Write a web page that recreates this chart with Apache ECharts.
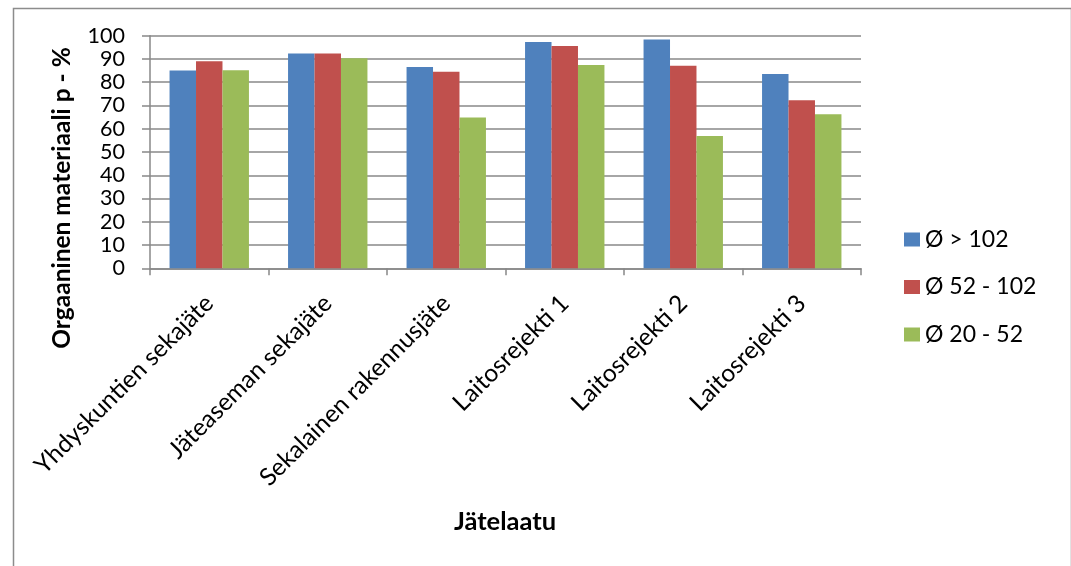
<!DOCTYPE html>
<html>
<head>
<meta charset="utf-8">
<script src="https://cdn.jsdelivr.net/npm/echarts@6/dist/echarts.min.js"></script>
<style>
  html, body { margin: 0; padding: 0; background: #fff; }
  #chart { width: 1071px; height: 566px; }
</style>
</head>
<body>
<div id="chart"></div>
<script>
// Waste types (x categories)
const categories = [
  'Yhdyskuntien sekajäte',
  'Jäteaseman sekajäte',
  'Sekalainen rakennusjäte',
  'Laitosrejekti 1',
  'Laitosrejekti 2',
  'Laitosrejekti 3'
];

// Particle size fractions
const seriesNames = ['Ø > 102', 'Ø 52 - 102', 'Ø 20 - 52'];

// Organic material share (%) per fraction
const over102 = [85, 92.3, 86.5, 97.3, 98.4, 83.5];
const from52to102 = [89, 92.3, 84.5, 95.6, 87.1, 72.2];
const from20to52 = [85.1, 90.3, 64.8, 87.4, 56.9, 66.2];

const seriesValues = [over102, from52to102, from20to52];
const colors = ['#4F81BD', '#C0504D', '#9BBB59'];

const FONT = 'Lato, "Open Sans", sans-serif';
const GRID_GRAY = '#888888';

const chart = echarts.init(document.getElementById('chart'), null, { renderer: 'canvas' });

chart.setOption({
  animation: false,
  backgroundColor: '#ffffff',
  textStyle: { fontFamily: FONT, color: '#000' },
  grid: { left: 150, top: 35.7, right: 210, bottom: 297.7, containLabel: false },
  legend: {
    data: seriesNames,
    orient: 'vertical',
    left: 904,
    top: 228,
    padding: 0,
    icon: 'rect',
    itemWidth: 16,
    itemHeight: 14,
    itemGap: 24.5,
    textStyle: { fontFamily: FONT, fontSize: 23, color: '#000', lineHeight: 23 }
  },
  xAxis: {
    type: 'category',
    data: categories,
    axisLine: { lineStyle: { color: GRID_GRAY, width: 1.5 } },
    axisTick: { show: true, length: 7, lineStyle: { color: GRID_GRAY, width: 1.5 } },
    axisLabel: {
      rotate: 45,
      interval: 0,
      margin: 31,
      fontFamily: FONT,
      fontSize: 24.5,
      color: '#000'
    }
  },
  yAxis: {
    type: 'value',
    min: 0,
    max: 100,
    interval: 10,
    axisLine: { show: true, lineStyle: { color: GRID_GRAY, width: 1.5 } },
    axisTick: { show: true, length: 8, lineStyle: { color: GRID_GRAY, width: 1.5 } },
    splitLine: { show: true, lineStyle: { color: GRID_GRAY, width: 1.5 } },
    axisLabel: { margin: 25, fontFamily: FONT, fontSize: 21.5, color: '#000' }
  },
  series: seriesNames.map((name, i) => ({
    name: name,
    type: 'bar',
    data: seriesValues[i],
    barGap: '0%',
    barCategoryGap: '33%',
    itemStyle: { color: colors[i] }
  })),
  graphic: [
    {
      type: 'rect',
      left: 11,
      top: 6,
      shape: { width: 1058, height: 620 },
      style: { fill: 'none', stroke: '#8c8c8c', lineWidth: 1.5 },
      silent: true
    },
    {
      type: 'text',
      x: 62,
      y: 198,
      rotation: Math.PI / 2,
      style: {
        text: 'Orgaaninen materiaali p - %',
        font: 'bold 24.5px ' + FONT,
        fill: '#000',
        align: 'center',
        verticalAlign: 'middle'
      }
    },
    {
      type: 'text',
      x: 505,
      y: 522,
      style: {
        text: 'Jätelaatu',
        font: 'bold 25.5px ' + FONT,
        fill: '#000',
        align: 'center',
        verticalAlign: 'middle'
      }
    }
  ]
});
</script>
</body>
</html>
